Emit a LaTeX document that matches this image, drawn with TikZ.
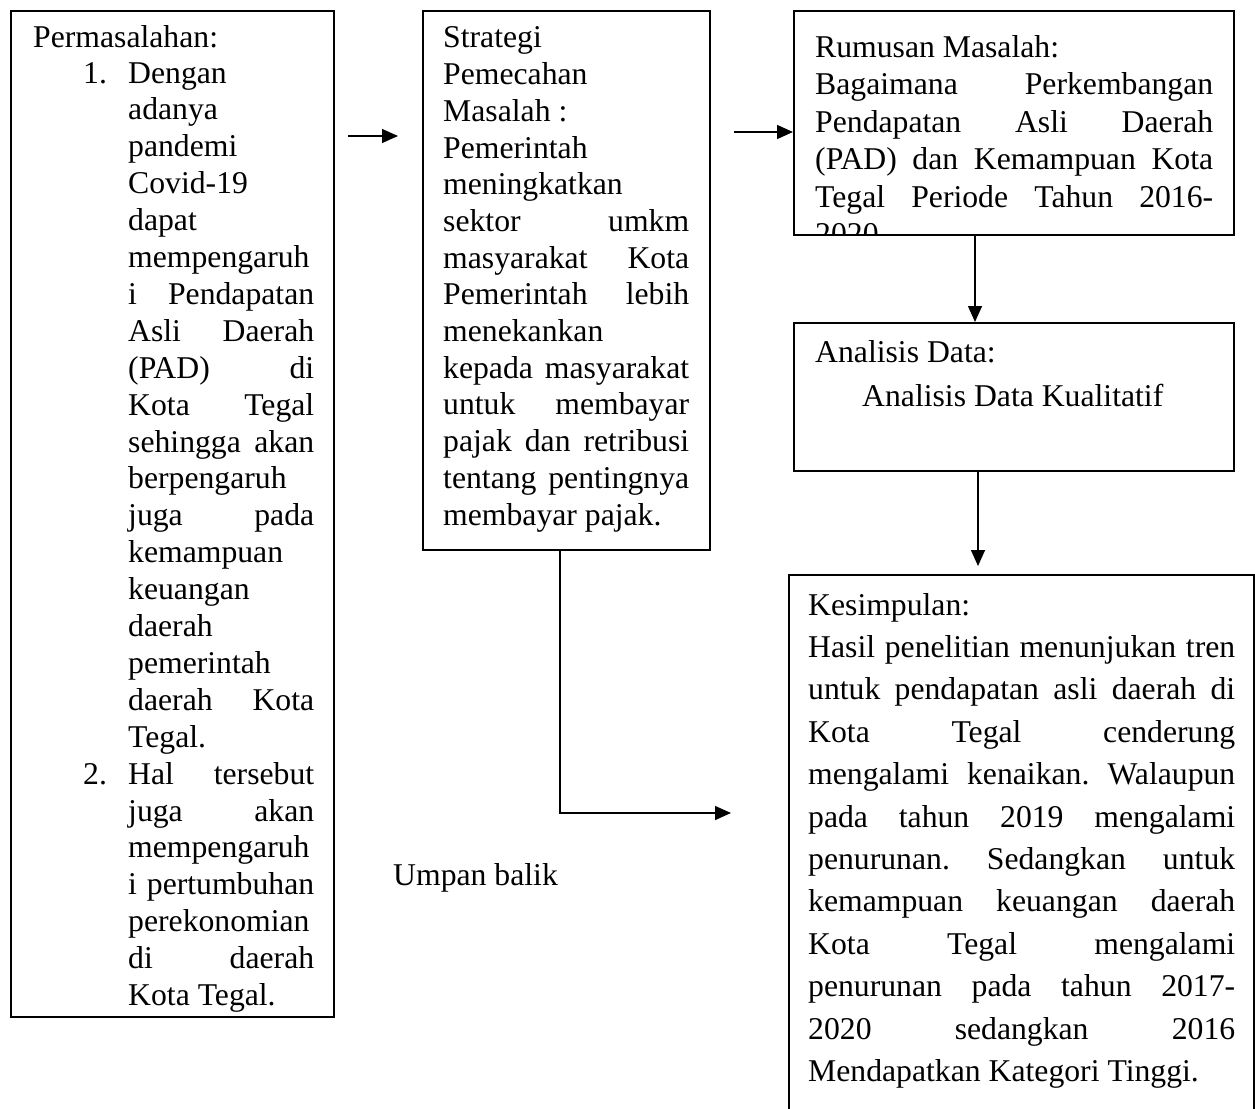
\documentclass[tikz,border=0pt]{standalone}
\usepackage{fontspec}
\setmainfont{Liberation Serif}
\usetikzlibrary{arrows.meta}
\frenchspacing
\newcommand\jl[2]{\makebox[#1][s]{#2}}
\tikzset{
  box/.style={draw=black, line width=1.6pt, inner sep=0pt, anchor=north west},
  txt/.style={anchor=base west, inner sep=0pt, font=\fontsize{31.7}{36.9}\selectfont},
  conn/.style={line width=1.4pt, -{Triangle[length=16pt,width=14pt]}},
}
\begin{document}
\begin{tikzpicture}[x=1pt,y=-1pt]
\useasboundingbox (0,0) rectangle (1255,1108);

% boxes
\node[box, minimum width=323pt, minimum height=1006pt] (perm) at (10,10) {};
\node[box, minimum width=287pt, minimum height=539pt] (strat) at (422,10) {};
\node[box, minimum width=440pt, minimum height=224pt] (rum) at (793,10) {};
\node[box, minimum width=440pt, minimum height=148pt] (ana) at (793,322) {};
\node[box, minimum width=465pt, minimum height=570pt] (kes) at (788,574) {};

% box 1 text
\node[txt] (t1h) at (33,48) {Permasalahan:};
\node[txt] (n1) at (83,83) {1.};
\node[txt] (n2) at (83,784.1) {2.};
\node[txt] (t1) at (128,83) {\parbox[t]{186pt}{\fontsize{31.7}{36.9}\selectfont
Dengan\\
adanya\\
pandemi\\
Covid-19\\
dapat\\
mempengaruh\\
\jl{186pt}{i Pendapatan}\\
\jl{186pt}{Asli Daerah}\\
\jl{186pt}{(PAD) di}\\
\jl{186pt}{Kota Tegal}\\
\jl{186pt}{sehingga akan}\\
berpengaruh\\
\jl{186pt}{juga pada}\\
kemampuan\\
keuangan\\
daerah\\
pemerintah\\
\jl{186pt}{daerah Kota}\\
Tegal.\\
\jl{186pt}{Hal tersebut}\\
\jl{186pt}{juga akan}\\
mempengaruh\\
\jl{186pt}{i pertumbuhan}\\
perekonomian\\
\jl{186pt}{di daerah}\\
Kota Tegal.}};

% box 2 text
\node[txt] (t2) at (443,48) {\parbox[t]{246pt}{\fontsize{31.7}{36.7}\selectfont
Strategi\\
Pemecahan\\
Masalah :\\
Pemerintah\\
meningkatkan\\
\jl{246pt}{sektor umkm}\\
\jl{246pt}{masyarakat Kota}\\
\jl{246pt}{Pemerintah lebih}\\
menekankan\\
\jl{246pt}{kepada masyarakat}\\
\jl{246pt}{untuk membayar}\\
\jl{246pt}{pajak dan retribusi}\\
\jl{246pt}{tentang pentingnya}\\
membayar pajak.}};

% box 3 text (clipped)
\begin{scope}
\clip (793,10) rectangle (1233,233);
\node[txt] (t3) at (815,57) {\parbox[t]{398pt}{\fontsize{31.7}{37.5}\selectfont
Rumusan Masalah:\\
\jl{398pt}{Bagaimana Perkembangan}\\
\jl{398pt}{Pendapatan Asli Daerah}\\
\jl{398pt}{(PAD) dan Kemampuan Kota}\\
\jl{398pt}{Tegal Periode Tahun 2016-}\\
2020}};
\end{scope}

% box 4 text
\node[txt] (t4a) at (815,362) {Analisis Data:};
\node[txt] (t4b) at (862,406) {Analisis Data Kualitatif};

% box 5 text
\node[txt] (t5) at (808,615) {\parbox[t]{427pt}{\fontsize{31.7}{42.4}\selectfont
Kesimpulan:\\
\jl{427pt}{Hasil penelitian menunjukan tren}\\
\jl{427pt}{untuk pendapatan asli daerah di}\\
\jl{427pt}{Kota Tegal cenderung}\\
\jl{427pt}{mengalami kenaikan. Walaupun}\\
\jl{427pt}{pada tahun 2019 mengalami}\\
\jl{427pt}{penurunan. Sedangkan untuk}\\
\jl{427pt}{kemampuan keuangan daerah}\\
\jl{427pt}{Kota Tegal mengalami}\\
\jl{427pt}{penurunan pada tahun 2017-}\\
\jl{427pt}{2020 sedangkan 2016}\\
Mendapatkan Kategori Tinggi.}};

% feedback label
\node[txt] (ub) at (393,885) {Umpan balik};

% connectors
\coordinate (a1s) at (348,136);
\coordinate (a1e) at (398,136);
\draw[conn] (a1s) -- (a1e);
\coordinate (a2s) at (734,132);
\draw[conn] (a2s) -- (a2s -| rum.west);
\coordinate (x1) at (975,0);
\draw[conn] (rum.south -| x1) -- (ana.north -| x1);
\coordinate (x2) at (978,0);
\coordinate (k2) at (978,566);
\draw[conn] (ana.south -| x2) -- (k2);
\coordinate (x3) at (560,0);
\coordinate (fb) at (731,813);
\draw[conn] (strat.south -| x3) |- (fb);
\end{tikzpicture}
\end{document}
